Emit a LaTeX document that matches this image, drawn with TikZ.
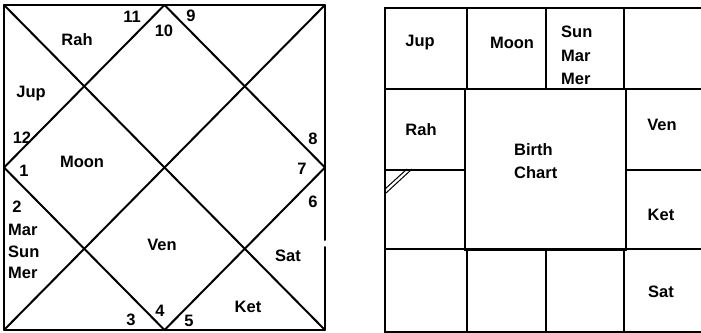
\documentclass[tikz,border=0pt]{standalone}
\usepackage{fontspec}
\setmainfont{Liberation Sans}
\begin{document}
\begin{tikzpicture}[x=1pt,y=-1pt,
  chartline/.style={line width=2pt, line cap=round, line join=round},
  gridline/.style={line width=1.5pt, line cap=round},
  lbl/.style={inner sep=0pt, font=\fontsize{16.5}{16.5}\selectfont\bfseries},
  lleft/.style={lbl, anchor=west, align=left}]
\useasboundingbox (0,0) rectangle (701,332);
% ---------- left chart (North Indian) ----------
\coordinate (TL) at (4,5);
\coordinate (TR) at (325,5);
\coordinate (BR) at (325,330);
\coordinate (BL) at (4,330);
\coordinate (TM) at (164.5,5);
\coordinate (RM) at (325,167.5);
\coordinate (BM) at (164.5,330);
\coordinate (LM) at (4,167.5);
\coordinate (G1) at (325,240);
\coordinate (G2) at (325,247);
\draw[chartline] (G1) -- (TR) -- (TL) -- (BL) -- (BR) -- (G2);
\draw[chartline] (TL) -- (BR);
\draw[chartline] (TR) -- (BL);
\draw[chartline] (TM) -- (RM) -- (BM) -- (LM) -- cycle;
% labels
\node[lbl] (rah1) at (77,40) {Rah};
\node[lbl] (n11) at (132,17) {11};
\node[lbl] (n10) at (164,31) {10};
\node[lbl] (n9) at (191,16) {9};
\node[lbl] (jup1) at (31,94) {Jup};
\node[lbl] (n12) at (22,138) {12};
\node[lbl] (n1) at (24,171) {1};
\node[lbl] (moon1) at (82,162) {Moon};
\node[lbl] (n8) at (313,139) {8};
\node[lbl] (n7) at (302,169) {7};
\node[lbl] (n6) at (313,202) {6};
\node[lbl] (n2) at (17,207) {2};
\node[lleft] (mar1) at (8,230) {Mar};
\node[lleft] (sun1) at (8,252) {Sun};
\node[lleft] (mer1) at (8,273) {Mer};
\node[lbl] (ven1) at (162,245) {Ven};
\node[lbl] (sat1) at (288,256) {Sat};
\node[lbl] (ket1) at (248,307) {Ket};
\node[lbl] (n3) at (131,320) {3};
\node[lbl] (n4) at (160,311) {4};
\node[lbl] (n5) at (189,321) {5};
% ---------- right chart (South Indian) ----------
\draw[gridline] (701,8) -- (385,8) -- (385,332) -- (701,332);
\draw[gridline] (385,89) -- (701,89);
\draw[gridline] (385,249) -- (701,249);
\draw[gridline] (467,8) -- (467,89);
\draw[gridline] (546,8) -- (546,89);
\draw[gridline] (624,8) -- (624,89);
\draw[gridline] (467,249) -- (467,332);
\draw[gridline] (546,249) -- (546,332);
\draw[gridline] (624,249) -- (624,332);
\draw[gridline] (465,89) -- (465,250) -- (626,250) -- (626,89);
\draw[gridline] (385,170) -- (465,170);
\draw[gridline] (626,170) -- (701,170);
% small double stroke
\draw[line width=1pt] (385,189) -- (407,169);
\draw[line width=1pt] (386,193) -- (412,169);
\node[lbl] (jup2) at (420,43) {Jup};
\node[lbl] (moon2) at (512,43) {Moon};
\node[lleft] (sun2) at (561,32) {Sun};
\node[lleft] (mar2) at (561,56) {Mar};
\node[lleft] (mer2) at (561,79) {Mer};
\node[lbl] (rah2) at (421,130) {Rah};
\node[lbl] (ven2) at (662,125) {Ven};
\node[lleft] (birth) at (514,150) {Birth};
\node[lleft] (chart) at (514,173) {Chart};
\node[lbl] (ket2) at (661,215) {Ket};
\node[lbl] (sat2) at (661,292) {Sat};
\end{tikzpicture}
\end{document}
